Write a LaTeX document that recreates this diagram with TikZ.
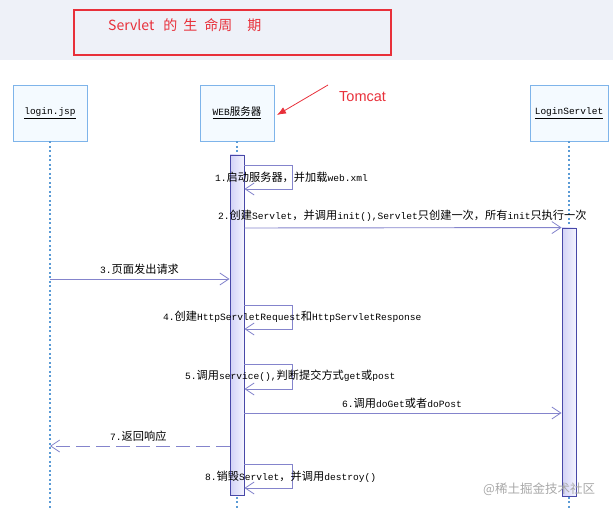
\documentclass[tikz,border=0pt]{standalone}
\usepackage{fontspec}
\setmainfont{Liberation Mono}
\newfontfamily\cjk{Noto Sans CJK SC}
\newfontfamily\sansf{Liberation Sans}
\usetikzlibrary{arrows.meta,calc}
\definecolor{bandcol}{HTML}{EEF1F8}
\definecolor{titlered}{HTML}{E8303A}
\definecolor{hdrborder}{HTML}{7EB4EA}
\definecolor{hdrfill}{HTML}{F4FAFF}
\definecolor{lifeblue}{HTML}{5B9BD5}
\definecolor{actborder}{HTML}{4848A8}
\definecolor{actleft}{HTML}{D2D2F6}
\definecolor{actright}{HTML}{F4F4FF}
\definecolor{msgcol}{HTML}{8484CC}
\definecolor{wmgray}{HTML}{A8A8A8}
\newcommand{\zh}[1]{{\cjk\fontsize{11.2}{12}\selectfont #1}}
\begin{document}
\begin{tikzpicture}[x=1pt,y=-1pt,
  header/.style={draw=hdrborder, fill=hdrfill, line width=0.9pt, minimum height=56pt, inner sep=0pt, font=\fontsize{9.5}{11}\selectfont},
  life/.style={draw=lifeblue, line width=1.3pt, dash pattern=on 2pt off 2.5pt},
  actbar/.style={draw=actborder, line width=0.9pt, left color=actleft, right color=actright, minimum width=14pt, inner sep=0pt},
  msg/.style={draw=msgcol, line width=0.9pt, -{Straight Barb[length=9pt,width=12pt,line width=0.8pt]}},
  retmsg/.style={msg, dash pattern=on 14pt off 6pt},
  lbl/.style={font=\fontsize{9.6}{11}\selectfont, inner sep=0pt, anchor=west},
  redtxt/.style={text=titlered, inner sep=0pt, anchor=west},
]
\useasboundingbox (0,0) rectangle (613,510);
\fill[bandcol] (0,0) rectangle (613,60);
\node[draw=titlered, line width=1.2pt, minimum width=317pt, minimum height=45pt, inner sep=0pt] (titlebox) at (232.5,32.5) {};
\node[redtxt, font=\cjk\fontsize{14}{15}\selectfont] (title) at (108,25) {Servlet\hspace{9pt}的\hspace{6pt}生\hspace{7pt}命周\hspace{15pt}期};

% headers
\node[header, minimum width=74pt] (login) at (50,113) {\underline{login.jsp}};
\node[header, minimum width=74pt] (web) at (237,113) {\underline{WEB{\cjk\fontsize{10.5}{11}\selectfont 服务器}}};
\node[header, minimum width=78pt] (ls) at (569,113) {\underline{LoginServlet}};

% Tomcat
\node[redtxt, font=\sansf\fontsize{14.5}{16}\selectfont] (tomcat) at (339,97) {Tomcat};
\coordinate (tomtail) at (328,85);
\coordinate (tomtip) at (277,115);
\draw[titlered, line width=0.8pt, -{Latex[length=9pt,width=7pt]}] (tomtail) -- (tomtip);

% lifelines
\coordinate (loginend) at (50,510);
\coordinate (webend) at (237,510);
\coordinate (lsend) at (569,510);
\draw[life] (login.south) -- (loginend);
\draw[life] (web.south) -- (webend);
\draw[life] (ls.south) -- (lsend);

% activation bars
\node[actbar, minimum height=340pt] (wbar) at (237,325) {};
\node[actbar, minimum height=268pt] (lbar) at (569,362) {};

% messages
\draw[msg] (wbar.east |- 0,165) -- (292,165) -- (292,189) -- (wbar.east |- 0,189);
\draw[msg] (wbar.east |- 0,228) -- (lbar.north west);
\draw[msg] (login.south |- 0,279) -- (wbar.west |- 0,279);
\draw[msg] (wbar.east |- 0,305) -- (292,305) -- (292,329) -- (wbar.east |- 0,329);
\draw[msg] (wbar.east |- 0,364) -- (292,364) -- (292,389) -- (wbar.east |- 0,389);
\draw[msg] (wbar.east |- 0,413) -- (lbar.west |- 0,413);
\draw[retmsg] (wbar.west |- 0,446) -- (login.south |- 0,446);
\draw[msg] (wbar.east |- 0,464) -- (292,464) -- (292,488) -- (wbar.east |- 0,488);

% labels
\node[lbl] (l1) at (215,177) {1.\zh{启动服务器，并加载}web.xml};
\node[lbl] (l2) at (218,216) {2.\zh{创建}Servlet\zh{，并调用}init(),Servlet\zh{只创建一次，所有}init\zh{只执行一次}};
\node[lbl] (l3) at (100,269) {3.\zh{页面发出请求}};
\node[lbl] (l4) at (163,317) {4.\zh{创建}HttpServletRequest\zh{和}HttpServletResponse};
\node[lbl] (l5) at (185,376) {5.\zh{调用}service(),\zh{判断提交方式}get\zh{或}post};
\node[lbl] (l6) at (342,403) {6.\zh{调用}doGet\zh{或者}doPost};
\node[lbl] (l7) at (110,436) {7.\zh{返回响应}};
\node[lbl] (l8) at (205,477) {8.\zh{销毁}Servlet\zh{，并调用}destroy()};

% watermark
\node[anchor=west, inner sep=0pt, text=wmgray, font=\cjk\fontsize{12.5}{13}\selectfont] (wm) at (483,489) {@稀土掘金技术社区};
\end{tikzpicture}
\end{document}
